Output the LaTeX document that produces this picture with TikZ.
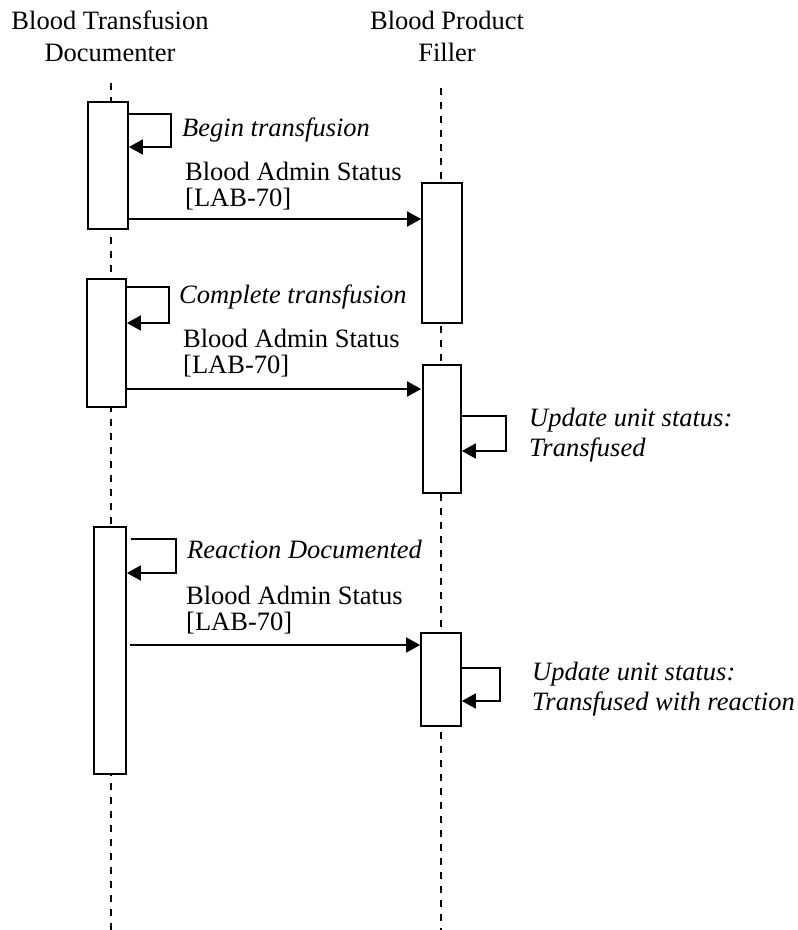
\documentclass[tikz,border=0pt]{standalone}
\usepackage{fontspec}
\setmainfont{Liberation Serif}
\usetikzlibrary{arrows.meta}
\begin{document}
\begin{tikzpicture}[x=1pt,y=-1pt,
  lifeline/.style={line width=1.8pt, dash pattern=on 7pt off 7pt},
  actbox/.style={draw, line width=1.8pt, fill=white, inner sep=0pt},
  msg/.style={line width=1.8pt, -{Triangle[length=14pt,width=15pt]}},
  lbl/.style={font=\fontsize{26.5}{25.5}\selectfont, inner sep=0pt, anchor=base west, align=left},
  ilbl/.style={lbl, font=\fontsize{26.5}{29.5}\selectfont\itshape},
  hdr/.style={font=\fontsize{26.5}{32}\selectfont, inner sep=0pt, align=center, anchor=base}]
\useasboundingbox (0,0) rectangle (798,930);
% headers
\node[hdr] (hL) at (110,61) {Blood Transfusion\\Documenter};
\node[hdr] (hR) at (447,61) {Blood Product\\Filler};
% lifelines
\coordinate (lt) at (111,83);  \coordinate (lb) at (111,930);
\coordinate (rt) at (441,88);  \coordinate (rb) at (441,930);
\draw[lifeline] (lt) -- (lb);
\draw[lifeline] (rt) -- (rb);
% activation boxes
\node[actbox, minimum width=40pt, minimum height=127pt] (L1) at (108,165.5) {};
\node[actbox, minimum width=39pt, minimum height=128pt] (L2) at (106.5,343) {};
\node[actbox, minimum width=32pt, minimum height=247pt] (L3) at (110,650.5) {};
\node[actbox, minimum width=40pt, minimum height=140pt] (R1) at (442,253) {};
\node[actbox, minimum width=38pt, minimum height=128pt] (R2) at (442,429) {};
\node[actbox, minimum width=40pt, minimum height=93pt] (R3) at (441,679.5) {};
% self loops
\coordinate (s1a) at (171,114); \coordinate (s1b) at (171,147);
\draw[msg] (L1.east |- s1a) -- (s1a) -- (s1b) -- (L1.east |- s1b);
\coordinate (s2a) at (169,287); \coordinate (s2b) at (169,323);
\draw[msg] (L2.east |- s2a) -- (s2a) -- (s2b) -- (L2.east |- s2b);
\coordinate (s3s) at (131,539); \coordinate (s3a) at (176,539); \coordinate (s3b) at (176,573);
\draw[msg] (s3s) -- (s3a) -- (s3b) -- (L3.east |- s3b);
\coordinate (s4a) at (506,416); \coordinate (s4b) at (506,451);
\draw[msg] (R2.east |- s4a) -- (s4a) -- (s4b) -- (R2.east |- s4b);
\coordinate (s5a) at (500,668); \coordinate (s5b) at (500,701);
\draw[msg] (R3.east |- s5a) -- (s5a) -- (s5b) -- (R3.east |- s5b);
% messages
\coordinate (m1) at (0,219); \coordinate (m2) at (0,389);
\coordinate (m3s) at (130,645);
\draw[msg] (L1.east |- m1) -- (R1.west |- m1);
\draw[msg] (L2.east |- m2) -- (R1.west |- m2);
\draw[msg] (m3s) -- (R3.west |- m3s);
% labels (base = baseline of the last line)
\node[ilbl] (t1) at (182,136) {Begin transfusion};
\node[lbl] (t2) at (185,206) {Blood Admin Status\\{}[LAB-70]};
\node[ilbl] (t3) at (179,303) {Complete transfusion};
\node[lbl] (t4) at (183,373) {Blood Admin Status\\{}[LAB-70]};
\node[ilbl] (t5) at (187,558) {Reaction Documented};
\node[lbl] (t6) at (186,630) {Blood Admin Status\\{}[LAB-70]};
\node[ilbl] (t7) at (529,456) {Update unit status:\\Transfused};
\node[ilbl] (t8) at (532,710) {Update unit status:\\Transfused with reaction};
\end{tikzpicture}
\end{document}
